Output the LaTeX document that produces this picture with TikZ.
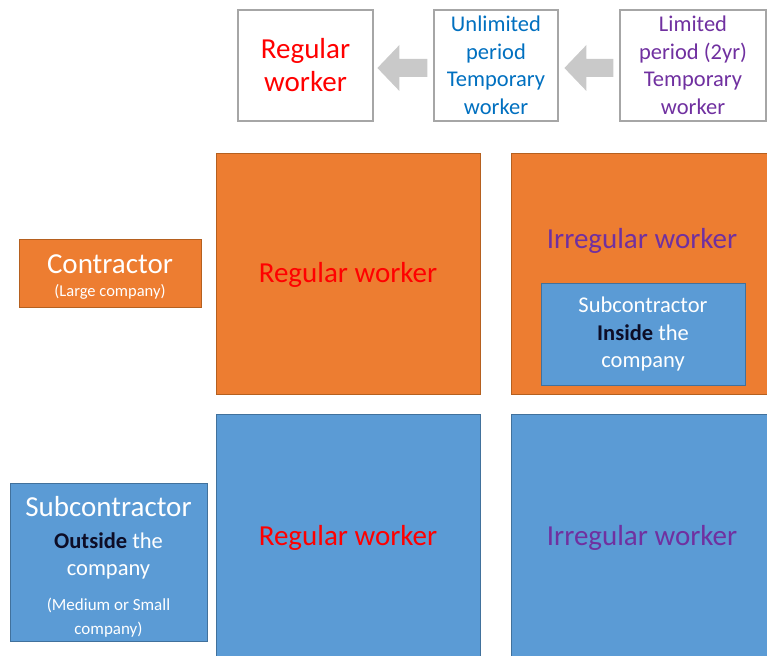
\documentclass[tikz,border=0pt]{standalone}
\usepackage{fontspec}
\setmainfont{Carlito}
\usetikzlibrary{calc}

\definecolor{boxorange}{HTML}{ED7D31}
\definecolor{edgeorange}{HTML}{B5601F}
\definecolor{boxblue}{HTML}{5B9BD5}
\definecolor{edgeblue}{HTML}{41719C}
\definecolor{wred}{HTML}{FF0000}
\definecolor{wpurple}{HTML}{7030A0}
\definecolor{wblue}{HTML}{0070C0}
\definecolor{arrowgray}{HTML}{C9C9C9}
\definecolor{edgegray}{HTML}{A6A6A6}
\definecolor{darkink}{HTML}{0D0D26}

\begin{document}
\begin{tikzpicture}[x=1pt,y=-1pt,
    topbox/.style={draw=edgegray,line width=1.2pt,fill=white,align=center,inner sep=0pt},
    orangebox/.style={draw=edgeorange,line width=0.8pt,fill=boxorange,inner sep=0pt},
    bluebox/.style={draw=edgeblue,line width=0.8pt,fill=boxblue,inner sep=0pt,
                    align=center,text=white},
    big/.style={font=\fontsize{29}{33}\selectfont},
    mid/.style={font=\fontsize{22.5}{27.5}\selectfont}]
    \useasboundingbox (0,0) rectangle (767,655);

    % top row
    \node[topbox,minimum width=135pt,minimum height=111pt,text=wred,big]
                                                          (reg) at (305.5,65.5) {Regular\\worker};
    \node[topbox,minimum width=124pt,minimum height=111pt,text=wblue,mid]
                                                          (unl) at (496,65.5)   {Unlimited\\period\\Temporary\\worker};
    \node[topbox,minimum width=146pt,minimum height=111pt,text=wpurple,mid]
                                                          (lim) at (693,65.5)   {Limited\\period (2yr)\\Temporary\\worker};

    \fill[arrowgray] ($(unl.west)+(-6,-6.5)$) -- ++(-28,0) -- ++(0,-14) -- ++(-22,23)
                     -- ++(22,23) -- ++(0,-14) -- ++(28,0) -- cycle;
    \fill[arrowgray] ($(lim.west)+(-6,-6.5)$) -- ++(-27,0) -- ++(0,-14) -- ++(-22,23)
                     -- ++(22,23) -- ++(0,-14) -- ++(27,0) -- cycle;

    % contractor row
    \node[orangebox,minimum width=264pt,minimum height=241pt] (oreg) at (348,273.5) {};
    \node[orangebox,minimum width=257pt,minimum height=241pt] (oirr) at (639.5,273.5) {};
    \node[text=wred,big]    (oregtxt) at (348,275)     {Regular worker};
    \node[text=wpurple,big] (oirrtxt) at (642,241)     {Irregular worker};
    \node[bluebox,minimum width=204pt,minimum height=102pt,mid] (inside) at (643,334)
          {Subcontractor\\{\bfseries\color{darkink}Inside} the\\company};
    \node[orangebox,minimum width=182pt,minimum height=68pt] (contr) at (110,273) {};
    \node[text=white,align=center,font=\fontsize{29}{27}\selectfont] (contrtxt) at (110,277)
          {Contractor\\[-4pt]{\fontsize{16.5}{20}\selectfont (Large company)}};

    % subcontractor row
    \node[bluebox,minimum width=264pt,minimum height=242pt] (breg) at (348,535) {};
    \node[bluebox,minimum width=257pt,minimum height=242pt] (birr) at (639.5,535) {};
    \node[text=wred,big]    (bregtxt) at (348,538)     {Regular worker};
    \node[text=wpurple,big] (birrtxt) at (642,538)     {Irregular worker};
    \node[bluebox,minimum width=197pt,minimum height=158pt] (outside) at (108.5,562) {};
    \node[text=white,align=center,font=\fontsize{22.5}{27}\selectfont] (outsidetxt) at (108.5,567)
          {{\fontsize{29}{27}\selectfont Subcontractor}\\[5pt]
           {\bfseries\color{darkink}Outside} the\\
           company\\[8pt]
           {\fontsize{17}{20}\selectfont (Medium or Small}\\[-3pt]
           {\fontsize{17}{20}\selectfont company)}};
\end{tikzpicture}
\end{document}
